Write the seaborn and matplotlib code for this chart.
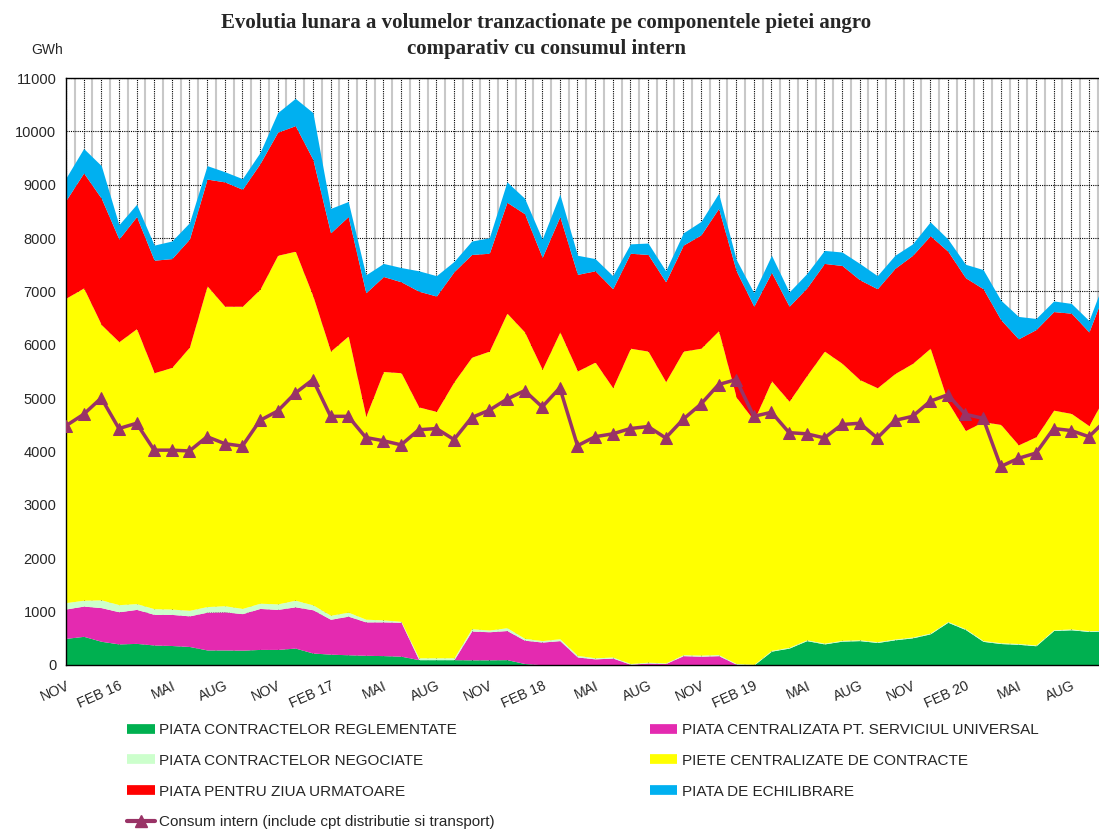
import matplotlib
matplotlib.use("Agg")
import matplotlib.pyplot as plt
from matplotlib.lines import Line2D
import seaborn as sns
import numpy as np
import pandas as pd

# lunar volumes, GWh, Nov 2015 .. Oct 2020
reglementate = [500, 537, 444, 395, 405, 375, 365, 347, 282, 282, 278, 292, 292, 317, 224, 203,
                192, 182, 176, 165, 100, 100, 100, 97, 97, 100, 28, 4, 0, 0, 0, 0, 0, 0, 0, 0,
                0, 0, 0, 0, 260, 317, 457, 395, 447, 457, 422, 472, 509, 584, 801, 664, 443, 402,
                388, 361, 646, 660, 628, 635]
serviciu_universal = [550, 567, 631, 602, 637, 573, 583, 574, 708, 714, 684, 768, 750, 773, 811, 654,
                      723, 626, 632, 636, 0, 0, 0, 540, 526, 546, 437, 426, 457, 150, 115, 130, 14, 38, 28, 175,
                      165, 175, 15, 0, 0, 0, 0, 0, 0, 0, 0, 0, 0, 0, 0, 0, 0, 0,
                      0, 0, 0, 0, 0, 0]
negociate = [120, 110, 145, 134, 108, 107, 100, 104, 105, 114, 98, 98, 103, 124, 91, 75,
             75, 50, 37, 17, 35, 35, 35, 43, 32, 52, 35, 27, 35, 30, 20, 20, 14, 14, 12, 18,
             20, 20, 13, 12, 15, 15, 15, 15, 15, 15, 15, 15, 15, 15, 15, 15, 15, 15,
             15, 15, 15, 15, 15, 15]
centralizate = [5705, 5852, 5159, 4927, 5153, 4422, 4529, 4934, 6010, 5613, 5663, 5885, 6533, 6540, 5788, 4950,
                5175, 3802, 4655, 4659, 4701, 4617, 5174, 5088, 5227, 5895, 5741, 5082, 5749, 5330, 5541, 5045,
                5908, 5830, 5269, 5689, 5751, 6069, 4991, 4572, 5050, 4611, 4952, 5472, 5191, 4876, 4758, 4975,
                5129, 5337, 4111, 3714, 4103, 4090, 3722, 3902, 4114, 4039, 3841, 4450]
pzu = [1834, 2155, 2368, 1925, 2100, 2109, 2039, 2024, 2001, 2330, 2192, 2354, 2307, 2353, 2559, 2216,
       2238, 2315, 1780, 1704, 2169, 2162, 2063, 1925, 1834, 2078, 2216, 2100, 2162, 1810, 1711, 1856,
       1780, 1811, 1872, 1987, 2124, 2292, 2368, 2139, 2032, 1780, 1642, 1643, 1834, 1871, 1856, 1971,
       2025, 2108, 2827, 2864, 2490, 1964, 1987, 2009, 1848, 1879, 1757, 2000]
echilibrare = [420, 458, 611, 267, 230, 283, 329, 306, 252, 191, 199, 206, 366, 512, 878, 458,
               283, 336, 245, 267, 382, 382, 191, 252, 290, 382, 290, 344, 420, 358, 229, 245,
               176, 214, 206, 229, 252, 283, 214, 252, 321, 267, 268, 244, 252, 306, 245, 245,
               214, 260, 229, 252, 359, 366, 420, 207, 199, 183, 214, 220]
consum = [4484, 4698, 5004, 4431, 4530, 4026, 4026, 4011, 4278, 4148, 4102, 4584, 4759, 5095, 5348, 4660,
          4660, 4263, 4202, 4125, 4408, 4431, 4225, 4637, 4775, 4981, 5141, 4836, 5195, 4110, 4278, 4332,
          4431, 4469, 4255, 4607, 4889, 5256, 5348, 4660, 4736, 4354, 4332, 4255, 4507, 4530, 4255, 4584,
          4660, 4943, 5065, 4698, 4622, 3720, 3873, 3972, 4431, 4393, 4278, 4600]

tick_labels = ["NOV", "FEB 16", "MAI", "AUG", "NOV", "FEB 17", "MAI", "AUG", "NOV", "FEB 18",
               "MAI", "AUG", "NOV", "FEB 19", "MAI", "AUG", "NOV", "FEB 20", "MAI", "AUG"]

series_names = ["PIATA CONTRACTELOR REGLEMENTATE", "PIATA CENTRALIZATA PT. SERVICIUL UNIVERSAL",
                "PIATA CONTRACTELOR NEGOCIATE", "PIETE CENTRALIZATE DE CONTRACTE",
                "PIATA PENTRU ZIUA URMATOARE", "PIATA DE ECHILIBRARE"]
colors = ["#00B050", "#E42AB0", "#CCFFCC", "#FFFF00", "#FF0000", "#00B0F0"]
line_color = "#993366"
line_name = "Consum intern (include cpt distributie si transport)"

sns.set_style("white")
plt.rcParams["font.family"] = ["Liberation Sans", "DejaVu Sans"]

months = np.arange(len(consum))
df = pd.DataFrame({"luna": months, "consum": consum})

fig = plt.figure(figsize=(10.99, 8.30), dpi=100)
ax = fig.add_axes([66 / 1099, 1 - 665 / 830, 1 - 66 / 1099, (665 - 78) / 830])

ax.stackplot(months, reglementate, serviciu_universal, negociate, centralizate, pzu, echilibrare,
             colors=colors, zorder=2, lw=0)
sns.lineplot(data=df, x="luna", y="consum", ax=ax, color=line_color, lw=2.5, marker="^",
             markersize=9, markeredgecolor=line_color, zorder=4)

ax.set_yticks(np.arange(0, 11001, 1000))
ax.set_xticks(months)
ax.set_xticks(months + 0.5, minor=True)
ax.set_xticklabels([tick_labels[i // 3] if i % 3 == 0 and i // 3 < len(tick_labels) else ""
                    for i in months], rotation=24, ha="right", rotation_mode="anchor", fontsize=10.2)
# the source picture is cut off just after SEP 20
ax.set_xlim(0, 58.57)
ax.set_ylim(0, 11000)
ax.tick_params(axis="x", which="major", direction="out", length=4, width=0.8, pad=6)
ax.tick_params(axis="x", which="minor", length=0)
ax.tick_params(axis="y", direction="out", length=4, width=0.8, labelsize=10.5, pad=3)
ax.set_xlabel("")
ax.set_ylabel("")

ax.grid(True, which="major", axis="both", color="black", linestyle=(0, (1, 1)), lw=0.8, zorder=0)
ax.grid(True, which="minor", axis="x", color="#C8C8C8", linestyle="-", lw=1.5, zorder=0)
ax.set_axisbelow(True)
for side in ["left", "bottom", "top"]:
    ax.spines[side].set_color("black")
    ax.spines[side].set_linewidth(1)
ax.spines["right"].set_visible(False)

fig.text(0.497, 1 - 13 / 830, "Evolutia lunara a volumelor tranzactionate pe componentele pietei angro\ncomparativ cu consumul intern",
         ha="center", va="top", fontsize=15, fontweight="bold", family="Liberation Serif", linespacing=1.38)
fig.text(47 / 1099, 1 - 50 / 830, "GWh", ha="center", va="center", fontsize=10)

handles = [Line2D([], [], color=c, lw=7, solid_capstyle="butt") for c in colors]
cons_handle = Line2D([], [], color=line_color, lw=3, marker="^", markersize=8, markevery=[1],
                     markeredgecolor=line_color)
order = [0, 2, 4, None, 1, 3, 5]
leg_handles = [cons_handle if k is None else handles[k] for k in order]
leg_labels = [line_name if k is None else series_names[k] for k in order]
fig.legend(leg_handles, leg_labels, ncol=2, loc="upper left", bbox_to_anchor=(127 / 1099, 1 - 723 / 830),
           frameon=False, fontsize=11, handlelength=1.8, handletextpad=0.3, labelspacing=1.1,
           columnspacing=10.15, borderpad=0, borderaxespad=0)

fig.savefig("out.png", dpi=100)
